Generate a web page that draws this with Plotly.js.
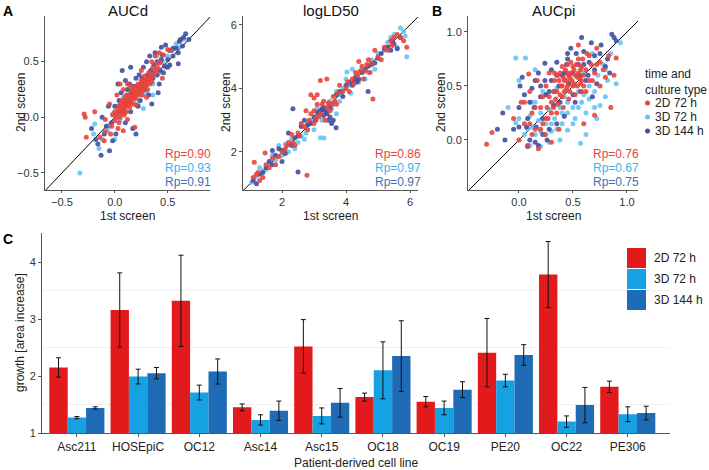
<!DOCTYPE html>
<html>
<head>
<meta charset="utf-8">
<script src="https://cdn.plot.ly/plotly-3.0.1.min.js"></script>
<style>html,body{margin:0;padding:0;background:#fff;}#chart{width:709px;height:470px;}</style>
</head>
<body>
<div id="chart"></div>
<script>
// ---------- DATA ----------
const seriesNames = ['2D 72 h', '3D 72 h', '3D 144 h'];
const panelTitles = ['AUCd', 'logLD50', 'AUCpi'];

// AUCd (1st screen, 2nd screen)
const aucd_2D72 = [[-0.29,0.03],[-0.28,0.0],[-0.19,0.05],[-0.14,-0.18],[-0.10,-0.21],[-0.09,-0.13],[-0.27,-0.18],[-0.09,-0.02],[-0.05,0.12],[-0.03,-0.08],[0.0,0.05],[0.02,0.0],[0.03,0.08],[0.04,-0.05],[0.05,0.12],[0.06,0.03],[0.07,0.15],[0.08,0.08],[0.09,0.02],[0.1,0.18],[0.1,0.1],[0.11,0.05],[0.12,0.14],[0.13,0.2],[0.14,0.09],[0.15,0.16],[0.16,0.24],[0.17,0.12],[0.18,0.2],[0.19,0.27],[0.2,0.17],[0.21,0.23],[0.22,0.3],[0.23,0.2],[0.24,0.27],[0.25,0.33],[0.26,0.24],[0.27,0.3],[0.28,0.37],[0.29,0.28],[0.3,0.34],[0.31,0.25],[0.32,0.4],[0.33,0.3],[0.35,0.36],[0.36,0.45],[0.38,0.4],[0.4,0.48],[0.43,0.49],[0.25,0.42],[0.5,0.61],[0.53,0.6],[0.19,-0.09],[0.08,-0.12],[0.05,0.3],[0.12,-0.02],[0.02,0.2],[0.3,0.18],[0.45,0.35],
  [0.01,0.03],[0.03,0.04],[0.04,0.1],[0.06,0.07],[0.07,0.1],[0.08,0.13],[0.09,0.11],[0.1,0.14],[0.11,0.15],[0.12,0.1],[0.13,0.16],[0.14,0.18],[0.15,0.13],[0.16,0.19],[0.17,0.17],[0.18,0.23],[0.19,0.21],[0.2,0.22],[0.21,0.26],[0.22,0.24],[0.23,0.25],[0.24,0.22],[0.25,0.28],[0.26,0.3],[0.27,0.27],[0.28,0.31],[0.29,0.33],[0.3,0.29],[0.31,0.33],[0.32,0.35],[0.33,0.34],[0.34,0.38],[0.35,0.32],[0.37,0.39],[0.39,0.43],[0.41,0.44],[0.0,-0.03],[-0.02,0.02],[0.05,0.0],[0.09,0.06],[0.14,0.14],[0.2,0.2],[0.26,0.2],[0.17,0.25],[0.11,0.2],[0.35,0.5],[0.38,0.55],[0.42,0.58],[0.46,0.56],[0.2,0.11],[0.03,-0.1],[-0.04,-0.15],[0.15,0.28],[0.12,0.3],[0.08,0.25]];
const aucd_3D72 = [[-0.33,-0.5],[-0.19,-0.06],[-0.07,-0.12],[-0.2,-0.15],[-0.15,-0.28],[-0.02,0.03],[0.02,0.1],[0.05,-0.02],[0.08,0.18],[0.1,0.05],[0.13,0.12],[0.15,0.22],[0.18,0.15],[0.2,0.25],[0.22,0.12],[0.25,0.22],[0.28,0.3],[0.3,0.22],[0.33,0.38],[0.36,0.3],[0.38,0.42],[0.42,0.4],[0.45,0.5],[0.5,0.55],[0.55,0.6],[0.6,0.63],[0.65,0.7],[0.36,0.2],[0.27,0.08],[0.0,-0.2],[0.4,0.55],
  [0.15,0.18],[0.2,0.2],[0.24,0.28],[0.3,0.32],[0.35,0.4],[0.1,0.1],[0.05,0.08],[-0.05,-0.08],[0.48,0.45],[0.58,0.66],[-0.12,-0.2]];
const aucd_3D144 = [[0.67,0.75],[0.61,0.68],[0.64,0.64],[0.58,0.62],[0.44,0.63],[0.45,0.56],[0.4,0.5],[0.47,0.46],[0.5,0.52],[0.55,0.55],[0.52,0.47],[0.1,0.33],[0.03,0.3],[0.01,-0.15],[-0.02,-0.21],[-0.16,-0.24],[-0.13,-0.34],[0.41,0.22],[0.17,-0.1],[-0.08,-0.08],[-0.12,0.0],[-0.22,-0.1],[-0.05,-0.3],[0.0,0.1],[0.04,0.15],[0.06,0.22],[0.08,0.05],[0.1,0.12],[0.12,0.25],[0.14,0.3],[0.15,0.05],[0.18,0.28],[0.2,0.35],[0.22,0.1],[0.23,0.38],[0.25,0.3],[0.27,0.45],[0.29,0.33],[0.3,0.5],[0.32,0.2],[0.34,0.42],[0.36,0.35],[0.38,0.58],[0.4,0.38],[0.42,0.3],[0.46,0.4],[0.33,0.55],[0.15,0.45],[0.07,0.42],[0.24,0.15],[0.6,0.48],[0.2,-0.15],[-0.06,0.1],[0.1,-0.05],[0.35,0.12],[0.48,0.65],
  [0.55,0.62],[0.6,0.58],[0.62,0.7],[0.65,0.72],[0.52,0.6],[0.5,0.45],[0.43,0.42],[0.37,0.47],[0.31,0.38],[0.26,0.35],[0.21,0.28],[0.16,0.22],[0.11,0.15],[0.05,0.05],[-0.03,-0.05],[-0.1,-0.15],[-0.18,-0.2],[0.28,0.25],[0.44,0.52],[0.7,0.7]];

// logLD50
const ld50_2D72 = [[1.13,1.68],[1.47,1.97],[2.78,1.27],[4.84,3.67],[1.1,1.2],[1.25,1.35],[1.4,1.2],[1.6,1.5],[1.3,1.1],[1.8,1.6],[2.0,2.0],[2.2,2.3],[2.1,2.1],[2.4,2.2],[2.5,2.6],[2.6,2.9],[2.8,2.7],[2.9,3.2],[3.0,2.9],[3.1,3.5],[3.05,3.05],[3.2,3.2],[3.3,3.6],[3.35,3.0],[3.4,3.4],[3.5,3.3],[3.6,3.75],[3.1,3.8],[2.9,3.8],[3.7,3.5],[3.2,4.25],[3.4,4.3],[4.0,4.0],[4.2,4.3],[4.3,4.5],[4.5,4.7],[4.6,4.55],[4.4,4.85],[4.7,4.9],[4.8,4.8],[5.0,5.0],[5.2,5.3],[5.4,5.5],[5.5,5.6],[5.6,5.7],[5.8,5.5],[5.9,5.3],[2.3,2.55],[3.8,4.1],[4.1,3.9],[4.9,5.2],
  [1.2,1.3],[1.5,1.6],[1.7,1.8],[1.9,1.85],[2.15,2.2],[2.35,2.3],[2.55,2.5],[2.7,2.8],[2.85,3.0],[3.0,3.3],[3.15,3.1],[3.25,3.5],[3.45,3.55],[3.55,3.5],[3.65,3.6],[3.75,3.85],[3.9,3.9],[4.05,4.2],[4.25,4.15],[4.35,4.4],[4.45,4.55],[4.55,4.3],[4.65,4.75],[4.75,4.5],[5.1,4.9],[5.3,5.2],[5.45,5.35],[5.7,5.6],[3.0,3.7],[2.75,3.3]];
const ld50_3D72 = [[5.9,5.0],[5.6,5.3],[5.8,5.8],[5.7,5.9],[5.3,5.45],[5.0,5.1],[4.6,4.3],[4.4,4.2],[4.2,4.6],[3.9,4.0],[3.6,3.5],[3.31,2.44],[3.2,2.45],[3.0,2.7],[2.8,2.9],[2.9,3.0],[3.4,3.25],[3.5,3.6],[2.6,2.5],[2.3,2.4],[2.4,2.1],[2.0,1.9],[1.8,1.75],[1.6,1.65],[1.4,1.4],[1.2,1.25],[1.05,1.05],[1.3,1.5],[4.8,4.9],[4.0,4.3],[3.7,3.9],[3.1,3.4],[2.7,2.4],[2.2,2.0],[1.9,2.2],[5.5,5.7],[4.9,4.6],[3.8,3.6],[4.4,4.5],[4.03,4.52],
  [1.15,1.2],[1.5,1.45],[1.7,1.9],[2.1,2.25],[2.5,2.3],[2.75,2.6],[3.05,3.1],[3.25,3.0],[3.45,3.5],[3.55,3.35],[3.85,3.8],[4.1,4.1],[4.3,4.35],[4.5,4.6],[4.7,4.5],[5.2,5.2],[5.4,5.6],[5.85,5.65],[3.7,3.2],[4.15,3.85]];
const ld50_3D144 = [[2.34,3.36],[2.5,1.37],[4.69,3.9],[3.69,2.76],[1.1,1.1],[1.3,1.3],[1.5,1.5],[1.7,1.6],[1.9,2.1],[2.1,1.95],[2.3,2.2],[2.5,2.5],[2.6,2.8],[2.7,3.0],[2.9,2.9],[3.0,3.1],[3.2,3.3],[3.3,3.4],[3.4,3.2],[3.5,3.1],[3.6,3.0],[3.3,3.15],[3.1,3.25],[3.7,3.8],[3.9,3.75],[4.0,4.1],[4.1,4.2],[4.2,4.1],[4.3,4.35],[4.4,4.3],[4.5,4.5],[4.7,4.7],[4.9,4.8],[5.1,5.1],[5.3,5.3],[5.4,5.2],[5.5,5.4],[5.6,5.25],[5.7,5.6],[2.2,2.6],[2.0,1.7],[1.2,1.0],
  [1.4,1.35],[1.6,1.7],[1.8,1.9],[2.0,2.05],[2.4,2.45],[2.8,2.85],[3.05,3.0],[3.15,3.2],[3.25,3.35],[3.35,3.3],[3.45,3.0],[3.5,3.4],[3.8,3.9],[4.25,4.25],[4.35,4.2],[4.6,4.6],[4.8,4.75],[5.0,4.95],[5.2,5.25],[5.45,5.5],[3.55,2.9],[1.7,2.05]];

// AUCpi
const aucpi_2D72 = [[-0.25,0.07],[-0.3,-0.04],[0.09,0.61],[0.9,0.76],[0.7,0.23],[-0.05,0.2],[0.0,0.0],[0.02,0.35],[0.05,0.15],[0.08,-0.05],[0.1,0.45],[0.12,0.25],[0.15,0.1],[0.17,0.55],[0.2,0.3],[0.22,0.4],[0.24,0.05],[0.25,0.5],[0.27,0.2],[0.28,0.62],[0.3,0.35],[0.32,0.45],[0.33,0.55],[0.35,0.25],[0.36,0.6],[0.38,0.42],[0.39,0.5],[0.4,0.68],[0.41,0.3],[0.42,0.55],[0.44,0.47],[0.45,0.62],[0.46,0.38],[0.47,0.58],[0.48,0.72],[0.5,0.5],[0.51,0.65],[0.52,0.42],[0.54,0.58],[0.55,0.75],[0.57,0.52],[0.58,0.68],[0.6,0.6],[0.62,0.45],[0.63,0.8],[0.65,0.55],[0.67,0.7],[0.7,0.62],[0.72,0.85],[0.75,0.5],[0.78,0.65],[0.8,0.58],[0.83,0.78],[0.85,0.3],[0.88,0.6],[0.3,-0.02],[0.18,-0.08],[0.6,0.15],[0.12,0.05],[0.37,0.1],[0.55,0.88],
  [0.35,0.45],[0.37,0.55],[0.38,0.62],[0.4,0.5],[0.41,0.58],[0.42,0.45],[0.43,0.65],[0.44,0.55],[0.45,0.5],[0.46,0.6],[0.47,0.45],[0.48,0.62],[0.49,0.55],[0.5,0.68],[0.51,0.52],[0.52,0.6],[0.53,0.7],[0.54,0.5],[0.55,0.62],[0.56,0.57],[0.57,0.65],[0.58,0.55],[0.59,0.75],[0.6,0.5],[0.62,0.65],[0.34,0.38],[0.32,0.3],[0.3,0.25],[0.28,0.4],[0.26,0.3],[0.25,0.2],[0.22,0.15],[0.2,0.1],[0.15,0.3],[0.1,0.15],[0.05,0.35],[0.68,0.55],[0.72,0.7],[0.65,0.78],[0.45,0.7],[0.4,0.4],[0.36,0.33],[0.33,0.62],[0.75,0.72],[0.58,0.45]];
const aucpi_3D72 = [[-0.03,0.76],[0.06,0.76],[0.94,0.9],[0.8,0.4],[0.45,0.09],[0.57,-0.03],[0.2,-0.06],[-0.03,0.16],[-0.1,0.3],[0.0,0.55],[0.05,0.05],[0.1,0.22],[0.12,0.12],[0.15,0.35],[0.18,0.18],[0.2,0.08],[0.22,0.45],[0.25,0.15],[0.28,0.28],[0.3,0.08],[0.33,0.2],[0.35,0.48],[0.38,0.3],[0.4,0.15],[0.42,0.4],[0.45,0.25],[0.48,0.55],[0.5,0.3],[0.52,0.2],[0.55,0.45],[0.58,0.35],[0.6,0.62],[0.62,0.25],[0.65,0.38],[0.68,0.8],[0.7,0.45],[0.73,0.6],[0.75,0.32],[0.78,0.7],[0.82,0.55],[0.85,0.8],[0.9,0.52],[0.1,-0.05],[0.28,-0.02],[0.15,0.65],[0.62,0.05],
  [0.2,0.25],[0.25,0.05],[0.3,0.15],[0.32,0.35],[0.35,0.1],[0.4,0.25],[0.45,0.35],[0.5,0.15],[0.55,0.3],[0.6,0.42],[0.65,0.5],[0.7,0.3],[0.8,0.65],[0.15,0.05],[0.08,0.1],[0.0,0.2],[0.12,0.35],[0.38,0.0],[0.25,0.42],[0.72,0.2]];
const aucpi_3D144 = [[-0.13,0.0],[0.01,0.5],[0.24,0.71],[0.45,0.8],[0.67,0.9],[0.86,0.98],[0.08,-0.06],[-0.15,0.25],[-0.05,0.1],[0.0,0.3],[0.03,0.58],[0.05,0.42],[0.08,0.2],[0.1,0.0],[0.12,0.48],[0.14,0.3],[0.16,0.12],[0.18,0.62],[0.2,0.4],[0.22,0.2],[0.24,0.55],[0.26,0.0],[0.28,0.45],[0.3,0.65],[0.32,0.32],[0.35,0.72],[0.37,0.5],[0.4,0.6],[0.42,0.22],[0.44,0.7],[0.46,0.52],[0.48,0.85],[0.5,0.62],[0.52,0.35],[0.55,0.7],[0.57,0.45],[0.6,0.82],[0.62,0.55],[0.65,0.72],[0.68,0.4],[0.7,0.78],[0.72,0.52],[0.76,0.88],[0.8,0.68],[0.84,0.62],[0.88,0.95],[0.18,-0.05],[0.35,0.15],[0.58,0.95],[0.07,0.12],
  [0.1,0.35],[0.15,0.55],[0.2,0.5],[0.25,0.42],[0.3,0.55],[0.33,0.45],[0.38,0.35],[0.42,0.62],[0.45,0.75],[0.5,0.42],[0.53,0.8],[0.56,0.6],[0.6,0.7],[0.64,0.6],[0.7,0.65],[0.75,0.8],[0.82,0.75],[0.9,0.92],[0.15,-0.02],[0.22,0.05],[0.28,0.1],[0.0,0.12],[-0.2,0.1],[0.35,0.6]];

// Pearson correlations [2D 72 h, 3D 72 h, 3D 144 h]
const rpAUCd = [0.90, 0.93, 0.91];
const rpLD50 = [0.86, 0.97, 0.97];
const rpAUCpi = [0.76, 0.67, 0.75];

// Panel C growth
const cellLines = ['Asc211','HOSEpiC','OC12','Asc14','Asc15','OC18','OC19','PE20','OC22','PE306'];
const growth2D72  = [2.15, 3.16, 3.32, 1.45, 2.52, 1.63, 1.55, 2.41, 3.78, 1.81];
const err2D72     = [0.17, 0.65, 0.80, 0.06, 0.47, 0.07, 0.09, 0.60, 0.58, 0.10];
const growth3D72  = [1.27, 1.99, 1.71, 1.23, 1.30, 2.10, 1.44, 1.92, 1.20, 1.33];
const err3D72     = [0.02, 0.13, 0.13, 0.09, 0.14, 0.50, 0.12, 0.11, 0.10, 0.13];
const growth3D144 = [1.44, 2.05, 2.08, 1.39, 1.53, 2.35, 1.76, 2.37, 1.49, 1.35];
const err3D144    = [0.02, 0.10, 0.22, 0.17, 0.25, 0.62, 0.14, 0.18, 0.31, 0.12];

// ---------- STYLE ----------
const W = 709, H = 470;
const px = x => x / W;
const py = y => 1 - y / H;
const FONT = 'Liberation Sans, Arial, sans-serif';
const dotColors = ['#e8453c', '#66c4f0', '#3d4fa2'];
const rpColors  = ['#e8453c', '#3cb4ea', '#3d70b6'];
const barColors = ['#e31a1c', '#16a2e2', '#1f6bb6'];
const AX = '#555';

function axisBase(extra) {
  return Object.assign({
    showline: true, linecolor: AX, linewidth: 1, ticks: 'outside', ticklen: 3,
    tickcolor: AX, tickwidth: 1, showgrid: false, zeroline: false,
    tickfont: {family: FONT, size: 11, color: '#333'}, fixedrange: true
  }, extra);
}

const scatterSets = [
  {data: [aucd_2D72, aucd_3D72, aucd_3D144], rp: rpAUCd, xa: 'x', ya: 'y'},
  {data: [ld50_2D72, ld50_3D72, ld50_3D144], rp: rpLD50, xa: 'x2', ya: 'y2'},
  {data: [aucpi_2D72, aucpi_3D72, aucpi_3D144], rp: rpAUCpi, xa: 'x3', ya: 'y3'}
];

const traces = [];
const drawOrder = [1, 2, 0];
scatterSets.forEach(set => {
  traces.push({x: [-10, 10], y: [-10, 10], xaxis: set.xa, yaxis: set.ya, mode: 'lines',
    line: {color: '#000', width: 1}, showlegend: false, hoverinfo: 'skip'});
  drawOrder.forEach(s => {
    traces.push({
      x: set.data[s].map(p => p[0]), y: set.data[s].map(p => p[1]),
      xaxis: set.xa, yaxis: set.ya, mode: 'markers', type: 'scatter',
      name: seriesNames[s], showlegend: false,
      marker: {color: dotColors[s], size: 5, opacity: 0.9, line: {width: 0}}
    });
  });
});

const barGrowth = [growth2D72, growth3D72, growth3D144];
const barErr = [err2D72, err3D72, err3D144];
[0, 1, 2].forEach(s => {
  traces.push({
    type: 'bar', x: cellLines, y: barGrowth[s], name: seriesNames[s],
    xaxis: 'x4', yaxis: 'y4', showlegend: false,
    marker: {color: barColors[s], line: {width: 0}},
    error_y: {type: 'data', array: barErr[s], visible: true, color: '#111', thickness: 1, width: 2.5}
  });
});

// scatter plot areas in pixels
const areas = [
  {l: 45, r: 210, t: 16, b: 190, xr: [-0.66, 0.9], yr: [-0.653, 0.91], tv: [-0.5, 0, 0.5], fmt: '.1f', rpRight: 213, ytx: 21},
  {l: 243, r: 418, t: 16, b: 190, xr: [0.78, 6.25], yr: [0.803, 6.28], tv: [2, 4, 6], fmt: 'd', rpRight: 423, ytx: 226},
  {l: 468, r: 638, t: 16, b: 190, xr: [-0.472, 1.102], yr: [-0.463, 1.148], tv: [0, 0.5, 1], fmt: '.1f', rpRight: 641, ytx: 441}
];

const layout = {
  width: W, height: H, margin: {l: 0, r: 0, t: 0, b: 0},
  paper_bgcolor: '#fff', plot_bgcolor: 'rgba(0,0,0,0)',
  font: {family: FONT, color: '#222'},
  showlegend: false, barmode: 'group', bargap: 0.1, bargroupgap: 0,
  annotations: [], shapes: []
};

areas.forEach((a, i) => {
  const sfx = i === 0 ? '' : String(i + 1);
  layout['xaxis' + sfx] = axisBase({domain: [px(a.l), px(a.r)], range: a.xr, tickvals: a.tv, tickformat: a.fmt, anchor: 'y' + sfx, ticklen: 2});
  layout['yaxis' + sfx] = axisBase({domain: [py(a.b), py(a.t)], range: a.yr, tickvals: a.tv, tickformat: a.fmt, anchor: 'x' + sfx});
  layout.annotations.push({text: panelTitles[i], xref: 'paper', yref: 'paper', x: px((a.l + a.r) / 2), y: py(11),
    xanchor: 'center', yanchor: 'middle', showarrow: false, font: {family: FONT, size: 15, color: '#111'}});
  layout.annotations.push({text: '1st screen', xref: 'paper', yref: 'paper', x: px((a.l + a.r) / 2), y: py(216),
    xanchor: 'center', yanchor: 'middle', showarrow: false, borderpad: 0, font: {family: FONT, size: 12, color: '#222'}});
  layout.annotations.push({text: '2nd screen', xref: 'paper', yref: 'paper', x: px(a.ytx), y: py((a.t + a.b) / 2),
    xanchor: 'center', yanchor: 'middle', textangle: -90, showarrow: false, font: {family: FONT, size: 12, color: '#222'}});
  scatterSets[i].rp.forEach((v, s) => {
    layout.annotations.push({text: 'Rp=' + v.toFixed(2), xref: 'paper', yref: 'paper', x: px(a.rpRight), y: py(154 + 14 * s),
      xanchor: 'right', yanchor: 'middle', showarrow: false, font: {family: FONT, size: 12, color: rpColors[s]}});
  });
});

// Panel C axes
layout.xaxis4 = axisBase({domain: [px(42), px(670)], range: [-0.57, 9.69], type: 'category', anchor: 'y4',
  tickfont: {family: FONT, size: 12, color: '#222'}});
layout.yaxis4 = axisBase({domain: [py(433), py(233)], range: [1, 4.51], tickvals: [1, 2, 3, 4], anchor: 'x4',
  minor: {tick0: 0.5, dtick: 1, showgrid: true, gridcolor: '#f1f1f1', gridwidth: 1, ticks: ''}});
layout.annotations.push({text: 'growth [area increase]', xref: 'paper', yref: 'paper', x: px(20), y: py(333),
  xanchor: 'center', yanchor: 'middle', textangle: -90, showarrow: false, font: {family: FONT, size: 12, color: '#222'}});
layout.annotations.push({text: 'Patient-derived cell line', xref: 'paper', yref: 'paper', x: px(356), y: py(463),
  xanchor: 'center', yanchor: 'middle', showarrow: false, font: {family: FONT, size: 12, color: '#222'}});

// panel letters
[['A', 8, 11], ['B', 437, 11], ['C', 8, 239]].forEach(l => {
  layout.annotations.push({text: '<b>' + l[0] + '</b>', xref: 'paper', yref: 'paper', x: px(l[1]), y: py(l[2]),
    xanchor: 'center', yanchor: 'middle', showarrow: false, font: {family: FONT, size: 14, color: '#000'}});
});

// scatter legend (panel B)
layout.annotations.push({text: 'time and<br>culture type', xref: 'paper', yref: 'paper', x: px(643), y: py(82),
  xanchor: 'left', yanchor: 'middle', align: 'left', showarrow: false, font: {family: FONT, size: 12, color: '#222'}});
seriesNames.forEach((n, s) => {
  const yc = 103 + 14 * s;
  layout.shapes.push({type: 'circle', xref: 'paper', yref: 'paper', x0: px(645), x1: px(650), y0: py(yc - 2.5), y1: py(yc + 2.5),
    fillcolor: dotColors[s], line: {width: 0}});
  layout.annotations.push({text: n, xref: 'paper', yref: 'paper', x: px(653), y: py(yc), xanchor: 'left', yanchor: 'middle',
    showarrow: false, font: {family: FONT, size: 12, color: '#222'}});
});

// bar legend (panel C)
seriesNames.forEach((n, s) => {
  const top = 248 + 21 * s;
  layout.shapes.push({type: 'rect', xref: 'paper', yref: 'paper', x0: px(627), x1: px(646), y0: py(top + 20), y1: py(top),
    fillcolor: barColors[s], line: {width: 0}});
  layout.annotations.push({text: n, xref: 'paper', yref: 'paper', x: px(652), y: py(top + 10), xanchor: 'left', yanchor: 'middle',
    showarrow: false, font: {family: FONT, size: 12, color: '#222'}});
});

Plotly.newPlot('chart', traces, layout, {displayModeBar: false, staticPlot: true});
</script>
</body>
</html>
